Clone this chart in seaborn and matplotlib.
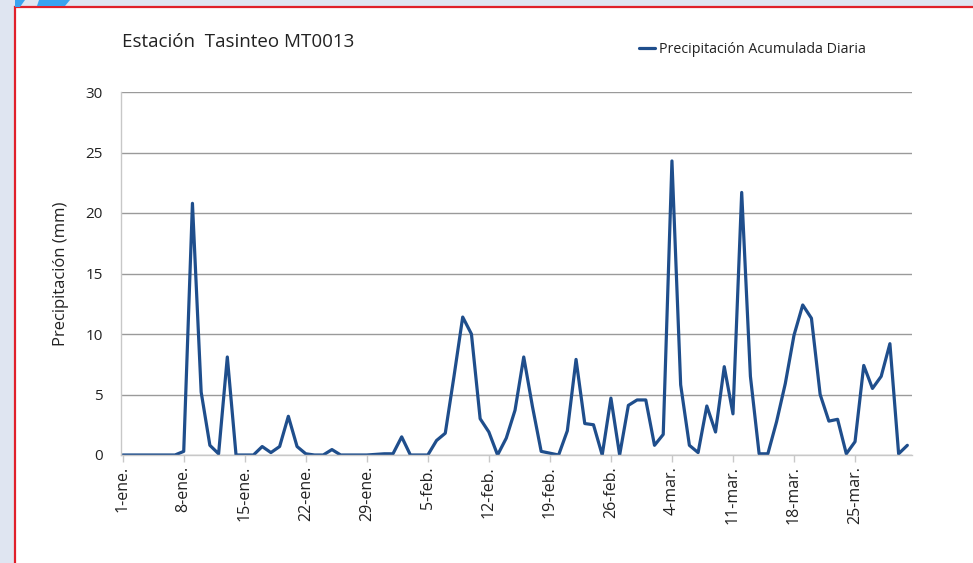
import pandas as pd
import matplotlib.pyplot as plt
from matplotlib.patches import Rectangle, Polygon
import seaborn as sns

# Daily precipitation (mm), 1-ene to 31-mar (leap year)
precip_ene = [0, 0, 0, 0, 0, 0, 0, 0.3, 20.8, 5.2, 0.8, 0.1, 8.1, 0, 0, 0,
              0.7, 0.2, 0.7, 3.2, 0.7, 0.1, 0, 0, 0.45, 0, 0, 0, 0, 0.05, 0.1]
precip_feb = [0.1, 1.5, 0, 0, 0, 1.2, 1.8, 6.5, 11.4, 10.0, 3.0, 1.9, 0, 1.4,
              3.7, 8.1, 4.0, 0.3, 0.15, 0, 2.0, 7.9, 2.6, 2.5, 0, 4.7, 0, 4.1, 4.55]
precip_mar = [4.55, 0.8, 1.7, 24.3, 5.8, 0.8, 0.2, 4.05, 1.9, 7.3, 3.4, 21.7,
              6.5, 0.1, 0.1, 2.75, 5.9, 9.9, 12.4, 11.3, 5.0, 2.8, 2.95, 0.1,
              1.1, 7.4, 5.5, 6.5, 9.2, 0.1, 0.8]
meses = {1: 'ene', 2: 'feb', 3: 'mar'}

fechas = pd.date_range('2012-01-01', '2012-03-31', freq='D')
df = pd.DataFrame({'fecha': fechas,
                   'precip': precip_ene + precip_feb + precip_mar})

sns.set_theme(style="white")
plt.rcParams['font.family'] = ['Open Sans', 'DejaVu Sans']

W, H = 973, 563
fig = plt.figure(figsize=(W / 100, H / 100), dpi=100)
fig.patch.set_facecolor('#dfe5f1')

# slide frame decoration
fig.add_artist(Rectangle((15 / W, -0.1), 1.2, 1 - 7 / H + 0.1, transform=fig.transFigure,
                         facecolor='white', edgecolor='#e0202a', linewidth=1.6, zorder=0))
for pts in ([(15, 0), (25, 0), (20, 7), (15, 7)], [(39, 0), (70, 0), (65, 6), (37, 6)]):
    fig.add_artist(Polygon([(x / W, 1 - y / H) for x, y in pts], closed=True,
                           transform=fig.transFigure, facecolor='#3aa3f0',
                           edgecolor='none', zorder=1))

ax = fig.add_axes([120.7 / W, 1 - 455 / H, (911.7 - 120.7) / W, (455 - 92) / H])
ax.set_facecolor('white')

sns.lineplot(data=df, x='fecha', y='precip', ax=ax, color='#1f4e8c',
             linewidth=2.3, label='Precipitación Acumulada Diaria')

ax.set_ylim(0, 30)
ax.set_yticks(range(0, 31, 5))
ax.set_xlim(fechas[0] - pd.Timedelta(hours=5.5), fechas[-1] + pd.Timedelta(hours=12))

ticks = pd.date_range('2012-01-01', '2012-03-25', freq='7D')
ax.set_xticks(ticks)
ax.set_xticklabels([f"{d.day}-{meses[d.month]}." for d in ticks], rotation=90)

ax.grid(axis='y', color='#9a9a9a', linewidth=1.0)
ax.set_axisbelow(True)
for s in ['top', 'right']:
    ax.spines[s].set_visible(False)
for s in ['left', 'bottom']:
    ax.spines[s].set_color('#c8c8c8')
    ax.spines[s].set_linewidth(1.0)

ax.tick_params(axis='y', length=0, pad=13, labelsize=11, labelcolor='#222222')
ax.tick_params(axis='x', length=5, width=1, color='#c8c8c8', direction='out',
               bottom=True, pad=3, labelsize=11.5, labelcolor='#222222')

ax.set_xlabel('')
ax.set_ylabel('Precipitación (mm)', fontsize=12, color='#222222', labelpad=12)

fig.text(122 / W, 1 - 42 / H, 'Estación  Tasinteo MT0013', fontsize=13.5,
         color='#222222', va='center', ha='left')

ax.legend(loc='center left', bbox_to_anchor=(626 / W, 1 - 50 / H),
          bbox_transform=fig.transFigure, frameon=False, fontsize=10.3,
          handlelength=1.1, handletextpad=0.3, labelcolor='#222222')

fig.savefig('out.png', dpi=100)
